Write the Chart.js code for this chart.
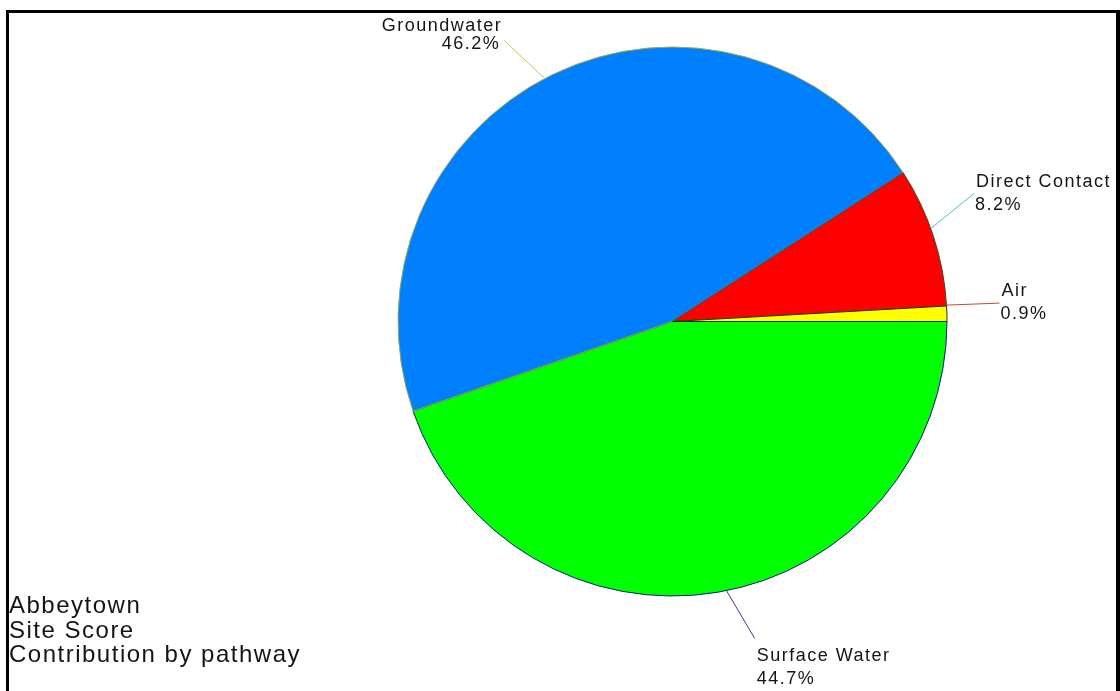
<!DOCTYPE html>
<html>
<head>
<meta charset="utf-8">
<script src="https://cdn.jsdelivr.net/npm/chart.js@4"></script>
<style>
  html, body { margin: 0; padding: 0; background: #fff; }
  #wrap { position: relative; width: 1120px; height: 691px; overflow: hidden; }
  #pie { position: absolute; left: 0; top: 0; }
  #frame {
    position: absolute; left: 6px; top: 10px; width: 1114px; height: 720px;
    box-sizing: border-box; border: 3px solid #000; border-right-width: 4px; border-bottom: none;
    pointer-events: none;
  }
</style>
</head>
<body>
<div id="wrap">
  <canvas id="pie" width="1120" height="691"></canvas>
  <div id="frame"></div>
</div>
<script>
// pathways, clockwise from 3 o'clock
const categories = ["Surface Water", "Groundwater", "Direct Contact", "Air"];
const shares = [44.7, 46.2, 8.2, 0.9];
const pctLabels = ["44.7%", "46.2%", "8.2%", "0.9%"];
const titleLines = ["Abbeytown", "Site Score", "Contribution by pathway"];

const fillColors = ["#00ff00", "#0080ff", "#ff0000", "#ffff00"];
const edgeColors = ["#1a1a80", "#a8a830", "#504010", "#203010"];
const leaderColors = ["#3a3a90", "#c8c850", "#40c0c8", "#c04a28"];
// how far (deg) the label end of each leader swings back from the slice middle
const labelShift = [5, 5, 5, 1.6];

const deg = Math.PI / 180;

const pieLabels = {
  id: "pieLabels",
  afterDatasetsDraw(chart) {
    const ctx = chart.ctx;
    const arcs = chart.getDatasetMeta(0).data;
    ctx.save();
    ctx.font = "18px 'Liberation Sans', Arial, sans-serif";
    ctx.letterSpacing = "1.5px";
    ctx.fillStyle = "#151515";
    ctx.textBaseline = "alphabetic";

    arcs.forEach((arc, i) => {
      const mid = (arc.startAngle + arc.endAngle) / 2;
      const r = arc.outerRadius;
      const a1 = mid - 1.8 * deg;
      const a2 = mid - labelShift[i] * deg;
      const x1 = arc.x + Math.cos(a1) * r;
      const y1 = arc.y + Math.sin(a1) * r;
      const x2 = arc.x + Math.cos(a2) * (r + 53);
      const y2 = arc.y + Math.sin(a2) * (r + 53);

      ctx.strokeStyle = leaderColors[i];
      ctx.lineWidth = 1;
      ctx.beginPath();
      ctx.moveTo(x1, y1);
      ctx.lineTo(x2, y2);
      ctx.stroke();

      const lines = [categories[i], pctLabels[i]];
      if (Math.sin(a2) > 0.9) {
        ctx.textAlign = "left";
        ctx.fillText(lines[0], x2 + 2, y2 + 22);
        ctx.fillText(lines[1], x2 + 2, y2 + 45);
      } else if (Math.cos(a2) < 0) {
        ctx.textAlign = "right";
        ctx.fillText(lines[0], x2 - 2, y2 - 10);
        ctx.fillText(lines[1], x2 - 4, y2 + 8);
      } else {
        ctx.textAlign = "left";
        ctx.fillText(lines[0], x2 + 2, y2 - 7);
        ctx.fillText(lines[1], x2 + 1, y2 + 16);
      }
    });

    ctx.font = "24px 'Liberation Sans', Arial, sans-serif";
    ctx.textAlign = "left";
    titleLines.forEach((t, k) => {
      ctx.fillText(t, 9, 613 + k * 24.5);
    });
    ctx.restore();
  }
};

new Chart(document.getElementById("pie"), {
  type: "pie",
  data: {
    labels: categories,
    datasets: [{
      data: shares,
      backgroundColor: fillColors,
      borderColor: edgeColors,
      borderWidth: 1
    }]
  },
  options: {
    responsive: false,
    animation: false,
    rotation: 90,
    events: [],
    layout: { padding: { left: 397.5, right: 172.5, top: 46.5, bottom: 94.5 } },
    plugins: {
      legend: { display: false },
      tooltip: { enabled: false },
      title: { display: false }
    }
  },
  plugins: [pieLabels]
});
</script>
</body>
</html>
